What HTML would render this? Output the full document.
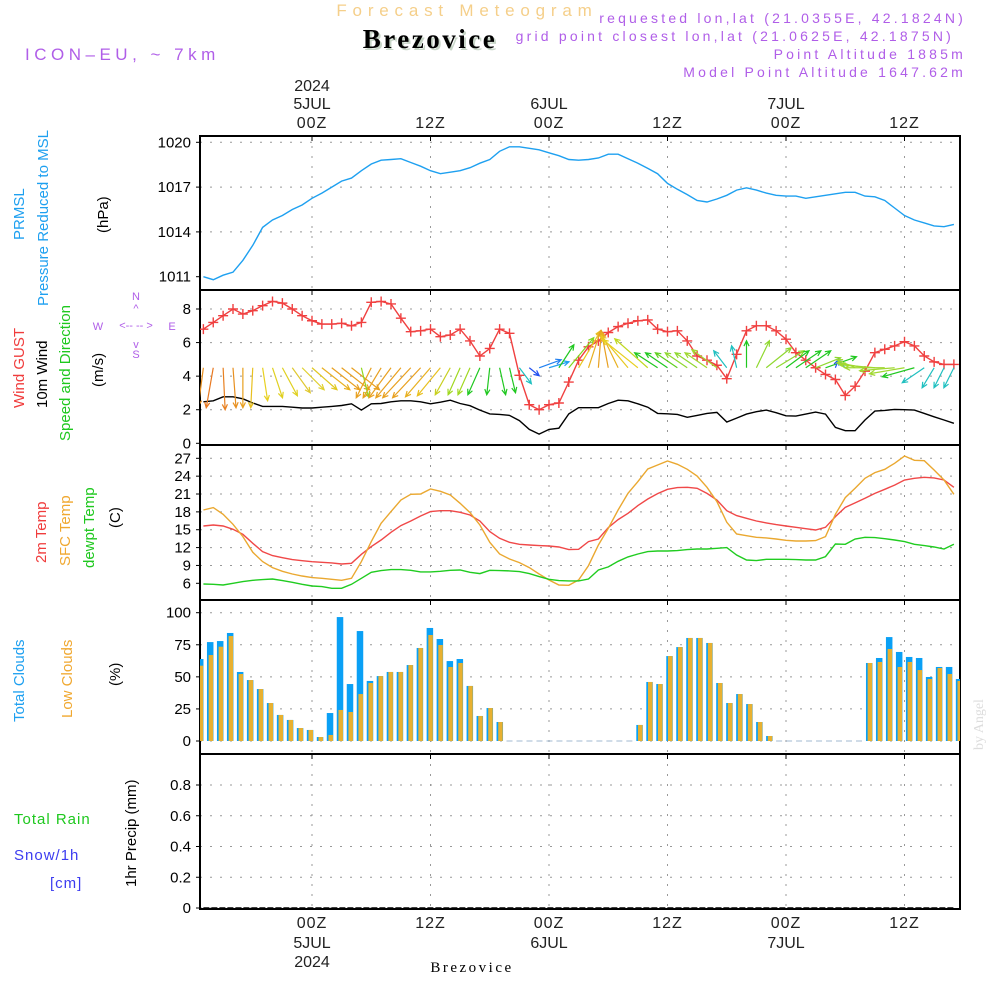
<!DOCTYPE html>
<html><head><meta charset="utf-8">
<style>
html,body{margin:0;padding:0;background:#fff;}
svg{display:block;font-family:"Liberation Sans",sans-serif;}
</style></head>
<body>
<svg id="chart" width="1000" height="1000" viewBox="0 0 1000 1000" xmlns="http://www.w3.org/2000/svg">
<rect width="1000" height="1000" fill="#fff"/>
<text x="467" y="16" font-size="17" fill="#f5cf8a" text-anchor="middle" letter-spacing="5.8">Forecast Meteogram</text>
<text x="432" y="50" font-size="27" font-weight="bold" fill="#c8d6c8" text-anchor="middle" font-family="Liberation Serif,serif" letter-spacing="2.5">Brezovice</text>
<text x="430" y="48" font-size="27" font-weight="bold" fill="#000" text-anchor="middle" font-family="Liberation Serif,serif" letter-spacing="2.5">Brezovice</text>
<text x="25" y="60" font-size="17" fill="#b05ee8" letter-spacing="4.5">ICON–EU, ~ 7km</text>
<g font-size="14" fill="#b05ee8" text-anchor="end" letter-spacing="3.2">
<text x="966" y="23">requested lon,lat (21.0355E, 42.1824N)</text>
<text x="954" y="41">grid point closest lon,lat (21.0625E, 42.1875N)</text>
<text x="966" y="59">Point Altitude 1885m</text>
<text x="966" y="77">Model Point Altitude 1647.62m</text>
</g>
<g id="plots"></g>
<g font-size="15">
<text transform="translate(24,240) rotate(-90)" fill="#1ea0f0">PRMSL</text>
<text transform="translate(48,306) rotate(-90)" fill="#1ea0f0">Pressure Reduced to MSL</text>
<text transform="translate(108,233) rotate(-90)" fill="#000">(hPa)</text>
<text transform="translate(24,408) rotate(-90)" fill="#f03c3c">Wind GUST</text>
<text transform="translate(47,408) rotate(-90)" fill="#000">10m Wind</text>
<text transform="translate(70,441) rotate(-90)" fill="#1ec81e">Speed and Direction</text>
<text transform="translate(103,387) rotate(-90)" fill="#000">(m/s)</text>
<text transform="translate(46,563) rotate(-90)" fill="#f03c3c">2m Temp</text>
<text transform="translate(70,566) rotate(-90)" fill="#f0a830">SFC Temp</text>
<text transform="translate(94,568) rotate(-90)" fill="#1ec81e">dewpt Temp</text>
<text transform="translate(120,528) rotate(-90)" fill="#000">(C)</text>
<text transform="translate(24,722) rotate(-90)" fill="#1ea0f0">Total Clouds</text>
<text transform="translate(72,718) rotate(-90)" fill="#f0a830">Low Clouds</text>
<text transform="translate(120,686) rotate(-90)" fill="#000">(%)</text>
<text x="14" y="824" fill="#1ec81e" letter-spacing="1">Total  Rain</text>
<text x="14" y="860" fill="#3c3cf0" letter-spacing="1">Snow/1h</text>
<text x="50" y="888" fill="#3c3cf0" letter-spacing="1">[cm]</text>
<text transform="translate(136,887) rotate(-90)" fill="#000">1hr Precip (mm)</text>
</g>
<g fill="#b05ee8" font-size="11" text-anchor="middle">
<text x="136" y="300">N</text><text x="136" y="358">S</text><text x="98" y="330">W</text><text x="172" y="330">E</text>
<text x="136" y="329" font-size="11">&lt;-- -- &gt;</text>
<text x="136" y="312">^</text><text x="136" y="348">v</text>
</g>
<text transform="translate(983,750) rotate(-90)" font-size="14" fill="#ddd" font-family="Liberation Serif,serif">by Angel</text>
<text x="472" y="972" font-size="15" fill="#000" text-anchor="middle" font-family="Liberation Serif,serif" letter-spacing="2.5">Brezovice</text>
</svg>
<script>
const hours = [];
for (let h = 13; h <= 89; h++) hours.push(h);
const pressure = [1011.0,1010.8,1011.1,1011.3,1012.1,1013.1,1014.3,1014.8,1015.1,1015.5,1015.8,1016.25,1016.6,1017.0,1017.4,1017.6,1018.1,1018.55,1018.8,1018.85,1018.9,1018.65,1018.4,1018.1,1017.9,1018.0,1018.1,1018.3,1018.6,1018.85,1019.4,1019.7,1019.7,1019.6,1019.5,1019.3,1019.1,1018.85,1018.8,1018.85,1018.95,1019.2,1019.2,1018.9,1018.6,1018.25,1017.9,1017.25,1016.85,1016.5,1016.1,1016.0,1016.2,1016.45,1016.8,1016.95,1016.8,1016.6,1016.45,1016.4,1016.4,1016.25,1016.35,1016.45,1016.55,1016.65,1016.65,1016.4,1016.35,1016.1,1015.6,1015.1,1014.8,1014.6,1014.4,1014.35,1014.5];
const gust = [6.8,7.2,7.6,8.0,7.7,7.9,8.2,8.45,8.35,8.0,7.6,7.3,7.1,7.1,7.15,7.0,7.2,8.4,8.45,8.3,7.45,6.65,6.7,6.8,6.35,6.45,6.8,6.1,5.2,5.65,6.8,6.55,4.05,2.3,2.0,2.3,2.4,3.65,4.95,5.75,6.1,6.6,6.95,7.15,7.3,7.35,6.8,6.65,6.7,6.1,5.2,4.95,4.65,3.85,5.3,6.7,7.0,7.0,6.7,6.2,5.4,4.95,4.5,4.1,3.8,2.85,3.4,4.3,5.4,5.6,5.8,6.05,5.8,5.2,4.85,4.7,4.7];
const wind = [2.47,2.53,2.77,2.77,2.65,2.4,2.2,2.2,2.2,2.15,2.1,2.1,2.15,2.2,2.25,2.35,1.98,2.35,2.37,2.47,2.53,2.53,2.47,2.35,2.45,2.57,2.37,2.24,1.98,1.75,1.72,1.66,1.35,0.83,0.55,0.83,0.9,1.75,2.12,2.12,2.12,2.37,2.57,2.53,2.35,2.15,1.78,1.76,1.72,1.55,1.66,1.78,1.84,1.27,1.5,1.74,1.88,1.98,1.82,1.64,1.62,1.74,1.86,1.74,0.95,0.75,0.75,1.39,1.92,1.96,2.02,2.0,1.98,1.78,1.58,1.39,1.19];
// wind arrow components (screen east / screen down)
const windU = [-0.5,-0.7,0.2,0.3,0.0,-0.2,0.5,1.0,1.5,1.8,2.2,2.5,2.8,2.8,2.8,2.8,0.7,-1.5,-1.8,-2.2,-2.5,-2.8,-2.8,-2.5,-2.3,-1.5,-1.2,-1.2,-1.2,-0.3,0.6,0.6,1.2,1.0,2.2,2.0,1.5,2.5,2.2,1.2,0.3,-0.7,-1.7,-2.7,-3.5,-3.3,-2.3,-2.2,-2.2,-2.2,-2.2,-2.2,-2.5,-1.3,-0.5,0.0,1.3,2.5,2.8,2.3,2.5,2.5,2.5,3.1,0.3,-0.8,-1.8,-2.8,-3.5,-4.0,-3.5,-3.5,-3.2,-2.2,-1.2,-1.0,-1.0];
const windV = [3.8,4.0,4.2,4.0,4.0,4.0,3.3,3.0,2.8,2.5,2.2,2.2,2.2,2.2,2.2,2.2,2.9,3.0,3.0,3.0,3.0,3.0,3.0,2.9,2.8,2.7,2.7,2.7,2.7,2.7,2.7,2.5,1.6,0.8,-0.8,-0.6,-2.3,-3.0,-3.7,-3.7,-3.7,-3.7,-3.5,-3.2,-2.8,-2.9,-1.5,-1.5,-1.5,-1.5,-1.5,-1.5,-1.8,-1.7,-2.2,-2.7,-2.7,-2.0,-1.7,-1.7,-1.7,-1.7,-1.0,-1.1,-0.8,-0.8,-0.8,-0.5,-0.3,0.0,0.3,0.6,0.9,1.5,2.0,2.0,2.0];
const windColor = ["#e89020","#e87820","#e88020","#e89020","#e8a020","#e8c020","#e8d020","#e0d020","#e0d020","#e0c830","#e0d030","#e0c820","#e8b020","#e8a020","#e8a020","#e8a020","#90d820","#e8a020","#e8a020","#e8a020","#e8a020","#e8a020","#e8a020","#e8b020","#e8c020","#c8d020","#a0d820","#a0d820","#20c820","#20c820","#20c820","#20c820","#20c0c0","#2050f0","#2080f0","#20a0f0","#20c820","#80d820","#e8c820","#e8b020","#e8a020","#e8a020","#e8b020","#e8c820","#e8d020","#c0d820","#20c820","#20c820","#60d020","#90d830","#90d830","#a0d830","#a0d830","#20c0c0","#20c0c0","#20c820","#90d830","#90d830","#90d830","#20c820","#20c820","#20c820","#90d830","#20c820","#1e50f0","#20a0f0","#a0d830","#a0d830","#a0d830","#a0d830","#a0d830","#a0d830","#20c820","#20c0c0","#20c0c0","#20c0c0","#20c0c0"];
const temp2m = [15.63,15.8,15.63,15.07,14.23,12.72,11.32,10.65,10.3,9.98,9.8,9.63,9.52,9.42,9.25,9.36,10.88,12.16,13.28,14.57,15.69,16.47,17.3,18.04,18.2,18.2,17.93,17.48,16.47,14.68,13.56,12.89,12.55,12.44,12.33,12.27,12.1,11.66,11.72,13.0,13.45,15.35,16.7,17.76,19.05,20.17,21.07,21.8,22.07,22.13,21.96,21.1,20.0,18.2,17.37,16.92,16.47,16.14,15.86,15.63,15.4,15.18,14.96,15.4,17.2,18.77,19.5,20.28,21.1,21.8,22.5,23.36,23.64,23.8,23.7,23.36,22.13];
const tempSfc = [18.32,18.71,17.6,15.91,13.84,11.21,9.64,8.64,8.02,7.57,7.23,6.95,6.84,6.68,6.51,6.84,9.64,13.0,16.08,18.04,20.0,20.95,21.0,21.85,21.46,20.84,19.44,17.87,15.8,12.89,10.93,10.09,9.47,8.64,7.57,6.56,5.72,5.67,6.56,8.97,12.44,15.24,18.32,21.12,23.08,25.2,25.88,26.55,25.99,25.15,24.03,22.13,19.72,16.25,14.29,14.0,13.73,13.62,13.45,13.23,13.11,13.11,13.17,13.84,17.6,20.4,21.96,23.64,24.6,25.15,26.16,27.39,26.66,26.6,25.04,23.36,20.95];
const dewpt = [5.89,5.84,5.72,6.0,6.28,6.51,6.62,6.73,6.45,6.17,5.84,5.55,5.44,5.16,5.16,5.83,6.84,7.85,8.13,8.3,8.3,8.19,7.91,7.91,8.02,8.19,8.24,7.85,7.63,8.19,8.13,8.08,7.96,7.63,7.12,6.68,6.45,6.4,6.4,6.73,8.24,8.75,9.7,10.43,10.93,11.32,11.43,11.43,11.49,11.66,11.77,11.77,11.88,12.0,10.76,9.92,9.81,10.03,10.03,10.03,9.98,9.92,9.92,10.48,12.61,12.55,13.45,13.73,13.67,13.5,13.28,13.0,12.55,12.33,12.1,11.77,12.55];
const totalCloud = [63.9,77.1,77.9,84.2,53.8,47.5,40.5,29.6,20.3,16.4,10.1,8.6,3.1,21.8,96.6,44.4,85.7,46.8,50.6,53.8,53.8,59.2,72.5,88.1,79.5,62.3,63.9,42.9,19.5,25.7,14.8,0,0,0,0,0,0,0,0,0,0,0,0,0,12.5,46,44.4,66.2,73.2,80.3,80.3,76.4,45.2,29.6,36.6,28.8,14.8,3.9,0,0,0,0,0,0,0,0,0,60.8,64.7,81,69.4,65.5,64.7,49.9,57.7,57.7,48.3];
const lowCloud = [58.7,67,73.5,81.8,52.2,47.5,40.5,29.6,20.3,16.4,10.1,8.6,3.1,4.7,24.2,22.6,36.6,45.2,50.6,53.8,53.8,59.2,72.5,82.6,74.8,57.7,60.8,42.9,19.5,25.7,14.8,0,0,0,0,0,0,0,0,0,0,0,0,0,12.5,46,44.4,66.2,73.2,80.3,80.3,76.4,45.2,29.6,36.6,28.8,14.8,3.9,0,0,0,0,0,0,0,0,0,60.8,61.6,71.7,57.7,61.6,55.3,48.3,56.9,52.2,46.8];
const precip = hours.map(() => 0);
const pressTicks = [1011,1014,1017,1020];
const windTicks = [0,2,4,6,8];
const tempTicks = [6,9,12,15,18,21,24,27];
const cloudTicks = [0,25,50,75,100];
const precipTicks = [0,0.2,0.4,0.6,0.8];
const timeTicks = [24,36,48,60,72,84];
const timeLabels = ["00Z","12Z","00Z","12Z","00Z","12Z"];
const dateLabels = {24:["5JUL","2024"],48:["6JUL"],72:["7JUL"]};

const NS = "http://www.w3.org/2000/svg";
const L = 200, R = 960;
const xh = h => 312 + (h - 24) * 9.875;
const lin = (v0, y0, v1, y1) => v => y0 + (v - v0) * (y1 - y0) / (v1 - v0);
const yP = lin(1011, 276.7, 1020, 142.3);
const yW = lin(0, 443.3, 8, 309);
const yT = lin(6, 583.3, 27, 458.3);
const yC = lin(0, 741, 100, 612.7);
const yR = lin(0, 908, 0.8, 785);
const panels = [[136,290,yP,pressTicks,'pressure'],[290,445,yW,windTicks,'wind'],[445,600,yT,tempTicks,'temperature'],[600,754,yC,cloudTicks,'clouds'],[754,909,yR,precipTicks,'precip']];
const root = document.getElementById('plots');
function mk(tag, attrs, parent) {
  const e = document.createElementNS(NS, tag);
  for (const k in attrs) e.setAttribute(k, attrs[k]);
  (parent || root).appendChild(e);
  return e;
}
const defs = mk('defs', {});
const cp = mk('clipPath', {id: 'clipAll'}, defs);
mk('rect', {x: L, y: 136, width: R - L, height: 773}, cp);

panels.forEach(([t, b, ys, ticks, name]) => {
  const g = mk('g', {});
  
  
  ticks.forEach((v, i) => {
    const y = ys(v);
    if (i > 0 || name === 'precip' || name === 'clouds') {
      const gl = mk('line', {x1: L, x2: R, y1: y, y2: y, stroke: '#999', 'stroke-dasharray': '2,8', 'stroke-width': 1}, g);
      
      
    }
    mk('line', {x1: L - 4, x2: L, y1: y, y2: y, stroke: '#000'}, g);
    const tl = mk('text', {x: L - 9, y: y + 5, 'font-size': 15, 'text-anchor': 'end', fill: '#000'}, g);
    tl.textContent = String(v);
    
    
  });
  timeTicks.forEach(h => {
    const x = xh(h);
    mk('line', {x1: x, x2: x, y1: t, y2: b, stroke: '#999', 'stroke-dasharray': '2,8'}, g);
    mk('line', {x1: x, x2: x, y1: t, y2: t + 5, stroke: '#000'}, g);
  });
  const fr = mk('rect', {x: L, y: t, width: R - L, height: b - t, fill: 'none', stroke: '#000', 'stroke-width': 2}, g);
  
  
});

timeTicks.forEach((h, i) => {
  const x = xh(h);
  const a = mk('text', {x: x, y: 128, 'font-size': 16, 'text-anchor': 'middle', fill: '#222', 'letter-spacing': 1});
  a.textContent = timeLabels[i];
  
  
  const c = mk('text', {x: x, y: 928, 'font-size': 16, 'text-anchor': 'middle', fill: '#222', 'letter-spacing': 1});
  c.textContent = timeLabels[i];
  
  
  if (dateLabels[h]) {
    const d = dateLabels[h];
    const t1 = mk('text', {x: x, y: 109, 'font-size': 16, 'text-anchor': 'middle', fill: '#222'});
    t1.textContent = d[0];
    
    
    const b1 = mk('text', {x: x, y: 948, 'font-size': 16, 'text-anchor': 'middle', fill: '#222'});
    b1.textContent = d[0];
    
    
    if (d[1]) {
      const t2 = mk('text', {x: x, y: 91, 'font-size': 16, 'text-anchor': 'middle', fill: '#222'});
      t2.textContent = d[1];
      
      
      const b2 = mk('text', {x: x, y: 967, 'font-size': 16, 'text-anchor': 'middle', fill: '#222'});
      b2.textContent = d[1];
      
      
    }
  }
});

const series = mk('g', {'clip-path': 'url(#clipAll)'});
function line(vals, ys, color, name) {
  const pts = vals.map((v, i) => xh(hours[i]).toFixed(1) + ',' + ys(v).toFixed(1)).join(' ');
  const p = mk('polyline', {points: pts, fill: 'none', stroke: color, 'stroke-width': 1.4}, series);
  
  
}
line(pressure, yP, '#1ea0f0', 'pressure-line');
line(wind, yW, '#000', 'wind-speed-line');
line(gust, yW, '#f04040', 'wind-gust-line');
gust.forEach((v, i) => {
  const x = xh(hours[i]), y = yW(v);
  const m = mk('path', {d: `M${x-5},${y}H${x+5}M${x},${y-5}V${y+5}`, stroke: '#f04040', 'stroke-width': 1.4}, series);
  
  
});
windU.forEach((u, i) => {
  const x0 = xh(hours[i]), y0 = yW(4.5);
  const x1 = x0 + u * 10, y1 = y0 + windV[i] * 10;
  const ang = Math.atan2(y1 - y0, x1 - x0);
  const hl = 6;
  const a1 = ang + 2.7, a2 = ang - 2.7;
  const d = `M${x0},${y0}L${x1},${y1}M${x1+hl*Math.cos(a1)},${y1+hl*Math.sin(a1)}L${x1},${y1}L${x1+hl*Math.cos(a2)},${y1+hl*Math.sin(a2)}`;
  const p = mk('path', {d: d, stroke: windColor[i], 'stroke-width': 1.2, fill: 'none'}, series);
  
  
});
line(temp2m, yT, '#f04848', 'temp-2m-line');
line(tempSfc, yT, '#eaa830', 'temp-sfc-line');
line(dewpt, yT, '#20cc20', 'dewpoint-line');
totalCloud.forEach((v, i) => {
  const h = hours[i];
  const cx = xh(h) + (h - 13) * 0.11 - 3.4;
  if (v <= 0) {
    const z = mk('line', {x1: cx - 3, x2: cx + 3, y1: yC(0), y2: yC(0), stroke: '#a0b8d0', 'stroke-width': 1}, series);
    
    
    return;
  }
  const b = mk('rect', {x: cx - 3, y: yC(v), width: 6.5, height: yC(0) - yC(v), fill: '#0aa0f5'}, series);
  
  
  const lv = lowCloud[i];
  const o = mk('rect', {x: cx - 1.3, y: yC(lv), width: 4.5, height: yC(0) - yC(lv), fill: '#e8b030'}, series);
  
  
});
const pp = mk('polyline', {points: precip.map((v, i) => xh(hours[i]) + ',' + yR(v)).join(' '), fill: 'none', stroke: '#000', 'stroke-width': 1.5, 'stroke-dasharray': '6,2'}, series);


</script>
</body></html>
